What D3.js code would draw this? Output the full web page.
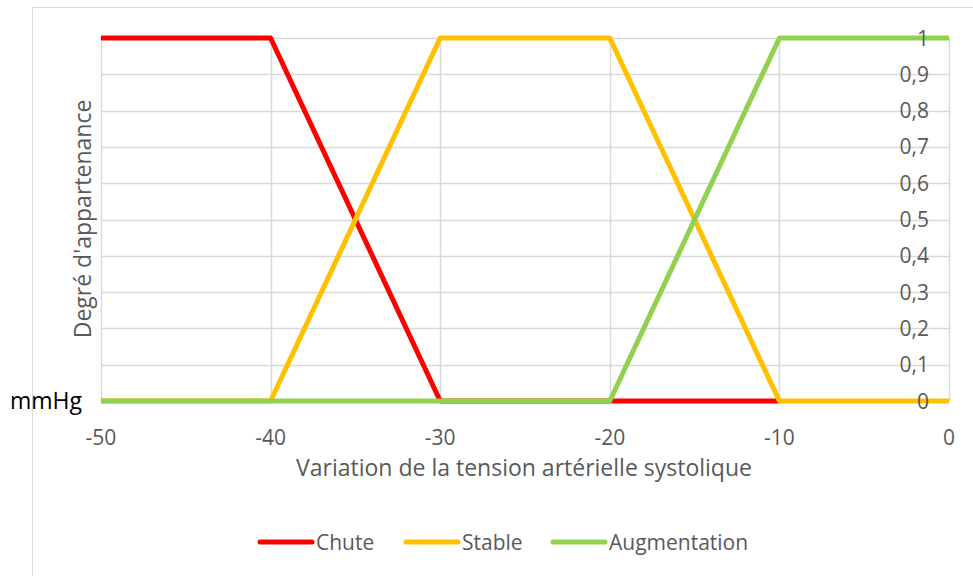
<!DOCTYPE html>
<html>
<head>
<meta charset="utf-8">
<script src="https://cdn.jsdelivr.net/npm/d3@7"></script>
<style>
  body { margin: 0; background: #fff; }
  svg { font-family: "Open Sans", sans-serif; }
</style>
</head>
<body>
<script>
// Data
var xTicks = [-50, -40, -30, -20, -10, 0];
var yTicks = [0, 0.1, 0.2, 0.3, 0.4, 0.5, 0.6, 0.7, 0.8, 0.9, 1];
var seriesNames = ["Chute", "Stable", "Augmentation"];
var seriesColors = ["#FF0000", "#FFC000", "#92D050"];
var chuteX = [-50, -40, -30, -20, -10];
var chuteY = [1, 1, 0, 0, 0];
var stableX = [-50, -40, -30, -20, -10, 0];
var stableY = [0, 0, 1, 1, 0, 0];
var augmX = [-50, -40, -30, -20, -10, 0];
var augmY = [0, 0, 0, 0, 1, 1];

var width = 973, height = 576;

var svg = d3.select("body").append("svg")
    .attr("width", width)
    .attr("height", height);

// chart frame
svg.append("rect")
    .attr("x", 32.5).attr("y", 7.5)
    .attr("width", 960).attr("height", 600)
    .attr("fill", "white")
    .attr("stroke", "#d9d9d9");

var x = d3.scaleLinear().domain([-50, 0]).range([101, 949]);
var y = d3.scaleLinear().domain([0, 1]).range([401, 38]);

// grid
svg.selectAll(".hgrid")
    .data(yTicks)
    .enter()
    .append("line")
    .attr("class", "hgrid")
    .attr("x1", x(-50)).attr("x2", x(0))
    .attr("y1", d => Math.round(y(d)) + 0.5)
    .attr("y2", d => Math.round(y(d)) + 0.5)
    .attr("stroke", "#d9d9d9")
    .attr("stroke-width", 1.5);

svg.selectAll(".vgrid")
    .data(xTicks)
    .enter()
    .append("line")
    .attr("class", "vgrid")
    .attr("x1", d => Math.round(x(d)) + 0.5)
    .attr("x2", d => Math.round(x(d)) + 0.5)
    .attr("y1", y(1)).attr("y2", y(0))
    .attr("stroke", "#d9d9d9")
    .attr("stroke-width", 1.5);

// x tick labels
svg.selectAll(".xlab")
    .data(xTicks)
    .enter()
    .append("text")
    .attr("class", "xlab")
    .attr("x", d => x(d))
    .attr("y", 445)
    .attr("text-anchor", "middle")
    .attr("fill", "#595959")
    .style("font-size", "21px")
    .text(d => d3.format("d")(d).replace("−", "-"));

// series lines
var series = [
  { name: seriesNames[0], color: seriesColors[0], xs: chuteX, ys: chuteY },
  { name: seriesNames[1], color: seriesColors[1], xs: stableX, ys: stableY },
  { name: seriesNames[2], color: seriesColors[2], xs: augmX, ys: augmY }
];

var line = d3.line()
    .x(d => x(d[0]))
    .y(d => y(d[1]));

svg.selectAll(".series")
    .data(series)
    .enter()
    .append("path")
    .attr("class", "series")
    .attr("d", d => line(d.xs.map((v, i) => [v, d.ys[i]])))
    .attr("fill", "none")
    .attr("stroke", d => d.color)
    .attr("stroke-width", 5)
    .attr("stroke-linejoin", "round");

// y tick labels (drawn on top, right side)
svg.selectAll(".ylab")
    .data(yTicks)
    .enter()
    .append("text")
    .attr("class", "ylab")
    .attr("x", 929)
    .attr("y", d => y(d) + 7.5)
    .attr("text-anchor", "end")
    .attr("fill", "#595959")
    .style("font-size", "21px")
    .text(d => d3.format(".1~f")(d).replace(".", ","));

// y axis title
svg.append("text")
    .attr("transform", "translate(91,219) rotate(-90)")
    .attr("text-anchor", "middle")
    .attr("fill", "#595959")
    .style("font-size", "23px")
    .text("Degré d'appartenance");

// unit label
svg.append("text")
    .attr("x", 10)
    .attr("y", 409)
    .attr("fill", "#000")
    .style("font-size", "23px")
    .text("mmHg");

// x axis title
svg.append("text")
    .attr("x", 524)
    .attr("y", 476)
    .attr("text-anchor", "middle")
    .attr("fill", "#595959")
    .style("font-size", "23px")
    .text("Variation de la tension artérielle systolique");

// legend
var legendX = [258, 404, 551];
var legend = svg.selectAll(".legend")
    .data(series)
    .enter()
    .append("g")
    .attr("class", "legend")
    .attr("transform", (d, i) => "translate(" + legendX[i] + ",542)");

legend.append("line")
    .attr("x1", 2).attr("x2", 54)
    .attr("stroke", d => d.color)
    .attr("stroke-width", 5)
    .attr("stroke-linecap", "round");

legend.append("text")
    .attr("x", 58)
    .attr("y", 7.5)
    .attr("fill", "#595959")
    .style("font-size", "21px")
    .text(d => d.name);
</script>
</body>
</html>
